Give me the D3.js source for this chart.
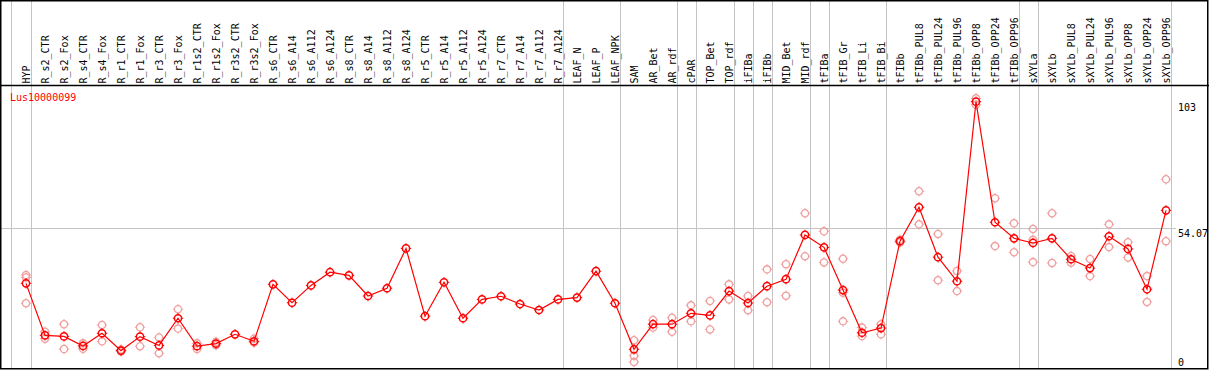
<!DOCTYPE html>
<html lang="en">

<head>
  <meta charset="utf-8" />
  <title>Lus10000099 expression</title>
  <script src="https://d3js.org/d3.v7.min.js"></script>
  <style>
    body {
      margin: 0;
      background: white;
    }

    text {
      font-family: "DejaVu Sans Mono", monospace;
      font-size: 10px;
    }

    .grid {
      stroke: #c4c4c4;
      stroke-width: 1px;
    }

    .frame {
      stroke: black;
      stroke-width: 1.5px;
      fill: none;
    }
  </style>
</head>

<body>
  <svg width="1209" height="370"></svg>

  <script>
    const labels = [
      "HYP", "R_s2_CTR", "R_s2_Fox", "R_s4_CTR", "R_s4_Fox", "R_r1_CTR", "R_r1_Fox",
      "R_r3_CTR", "R_r3_Fox", "R_r1s2_CTR", "R_r1s2_Fox", "R_r3s2_CTR", "R_r3s2_Fox",
      "R_s6_CTR", "R_s6_A14", "R_s6_A112", "R_s6_A124", "R_s8_CTR", "R_s8_A14",
      "R_s8_A112", "R_s8_A124", "R_r5_CTR", "R_r5_A14", "R_r5_A112", "R_r5_A124",
      "R_r7_CTR", "R_r7_A14", "R_r7_A112", "R_r7_A124", "LEAF_N", "LEAF_P", "LEAF_NPK",
      "SAM", "AR_Bet", "AR_rdf", "cPAR", "TOP_Bet", "TOP_rdf", "iFIBa", "iFIBb",
      "MID_Bet", "MID_rdf", "tFIBa", "tFIB_Gr", "tFIB_Li", "tFIB_Bi", "tFIBb",
      "tFIBb_PUL8", "tFIBb_PUL24", "tFIBb_PUL96", "tFIBb_OPP8", "tFIBb_OPP24",
      "tFIBb_OPP96", "sXYLa", "sXYLb", "sXYLb_PUL8", "sXYLb_PUL24", "sXYLb_PUL96",
      "sXYLb_OPP8", "sXYLb_OPP24", "sXYLb_OPP96"
    ];

    // mean expression per sample
    const means = [
      32.8, 12.7, 12.3, 8.6, 13.5, 6.8, 12.2, 8.8, 19.3, 8.5, 9.5, 13.1, 10.4,
      32.4, 25.3, 32.0, 37.1, 35.9, 27.9, 30.9, 46.3, 20.1, 33.2, 19.3, 26.6,
      27.8, 24.8, 22.5, 26.6, 27.3, 37.5, 25.1,
      7.3, 17.0, 17.0, 21.2, 20.4, 29.8, 25.2, 31.7, 34.4, 51.5, 46.7, 30.2, 13.7, 15.5,
      49.1, 62.2, 42.9, 33.6, 103.0, 56.4, 50.2,
      48.4, 50.2, 42.1, 38.7, 51.0, 46.1, 30.5, 61.0
    ];

    // individual replicates (light circles)
    const replicates = [
      [36.0, 35.1, 25.1], [14.1, 11.4], [17.0, 7.4], [9.6, 7.5], [16.7, 10.4], [7.2, 6.5],
      [15.8, 8.5], [11.9, 5.8], [22.8, 15.3], [9.6, 7.4], [10.2, 8.9], [], [11.4, 9.9],
      [], [], [], [], [], [], [], [], [], [], [], [], [], [], [], [], [], [], [],
      [10.8, 4.8, 2.4], [18.6, 15.7], [19.5, 14.1], [24.3, 18.1], [26.0, 15.0],
      [32.4, 26.6], [27.9, 22.4], [38.2, 25.5], [40.2, 28.0], [59.9, 43.3],
      [52.9, 40.9], [42.3, 18.1, 29.2], [15.7, 12.4], [17.0, 13.1],
      [49.6, 48.6], [68.4, 55.6], [51.9, 34.0], [37.6, 29.8], [104.3, 101.8],
      [65.7, 47.2], [56.0, 44.8],
      [53.8, 49.6, 41.0], [59.9, 40.7], [43.4, 40.8], [42.2, 35.6], [55.6, 46.8],
      [48.7, 42.8], [35.6, 25.6], [73.0, 49.1]
    ];

    // last sample of each tissue group (gray separators after them)
    const groupEnds = [
      "HYP", "R_r7_A124", "LEAF_NPK", "AR_rdf", "cPAR", "TOP_rdf", "iFIBa", "iFIBb",
      "MID_rdf", "tFIBa", "tFIB_Bi", "tFIBb_OPP96", "sXYLa", "sXYLb_OPP96"
    ];

    const yTicks = [103, 54.07, 0];
    const geneName = "Lus10000099";

    const svg = d3.select("svg"),
      width = +svg.attr("width"),
      height = +svg.attr("height");

    const headerY = 85.5;
    const bottom = 368.5;

    const x = d3.scalePoint().domain(labels).range([26, 1166]);
    const y = d3.scaleLinear().domain([0, 103]).range([368.2, 101.7]);

    // separators
    const seps = [x(labels[0]) - 15].concat(groupEnds.map(l => x(l) + 4.7));
    svg.append("g")
      .selectAll("line")
      .data(seps)
      .join("line")
      .attr("class", "grid")
      .attr("x1", d => Math.round(d) + 0.5)
      .attr("x2", d => Math.round(d) + 0.5)
      .attr("y1", 0)
      .attr("y2", bottom);

    svg.append("line")
      .attr("class", "grid")
      .attr("x1", 0)
      .attr("x2", 1176)
      .attr("y1", Math.round(y(54.07)) + 0.5)
      .attr("y2", Math.round(y(54.07)) + 0.5);

    // frame + header divider
    svg.append("rect")
      .attr("class", "frame")
      .attr("x", 0.75)
      .attr("y", 0.75)
      .attr("width", width - 2)
      .attr("height", bottom - 0.5);

    svg.append("line")
      .attr("x1", 0)
      .attr("x2", width)
      .attr("y1", headerY)
      .attr("y2", headerY)
      .attr("stroke", "black")
      .attr("stroke-width", 1.5);

    // column labels
    svg.append("g")
      .selectAll("text")
      .data(labels)
      .join("text")
      .attr("transform", d => `translate(${x(d) + 4},83.5) rotate(-90)`)
      .attr("fill", "black")
      .text(d => d);

    svg.append("text")
      .attr("x", 10)
      .attr("y", 101)
      .attr("fill", "red")
      .text(geneName);

    // right axis labels
    svg.append("g")
      .selectAll("text")
      .data(yTicks)
      .join("text")
      .attr("x", 1178)
      .attr("y", d => Math.min(y(d) + 9, 366))
      .attr("fill", "black")
      .text(d => d);

    function marker(g, color, w) {
      const r = 3.6;
      g.append("circle")
        .attr("r", r)
        .attr("fill", "none")
        .attr("stroke", color)
        .attr("stroke-width", w);
      g.selectAll("line.tick")
        .data([[0, -1], [0, 1], [-1, 0], [1, 0]])
        .join("line")
        .attr("class", "tick")
        .attr("x1", d => d[0] * r)
        .attr("y1", d => d[1] * r)
        .attr("x2", d => d[0] * (r + 1.6))
        .attr("y2", d => d[1] * (r + 1.6))
        .attr("stroke", color)
        .attr("stroke-width", 1);
    }

    // replicates
    const repPts = [];
    replicates.forEach((arr, i) => arr.forEach(v => repPts.push({ l: labels[i], v })));
    svg.append("g")
      .selectAll("g")
      .data(repPts)
      .join("g")
      .attr("transform", d => `translate(${x(d.l)},${y(d.v)})`)
      .each(function () { marker(d3.select(this), "#f0a0a0", 1.3); });

    // mean line
    const line = d3.line()
      .x((d, i) => x(labels[i]))
      .y(d => y(d));

    svg.append("path")
      .datum(means)
      .attr("fill", "none")
      .attr("stroke", "red")
      .attr("stroke-width", 1.2)
      .attr("d", line);

    svg.append("g")
      .selectAll("g")
      .data(means)
      .join("g")
      .attr("transform", (d, i) => `translate(${x(labels[i])},${y(d)})`)
      .each(function () { marker(d3.select(this), "red", 1.5); });
  </script>
</body>

</html>
